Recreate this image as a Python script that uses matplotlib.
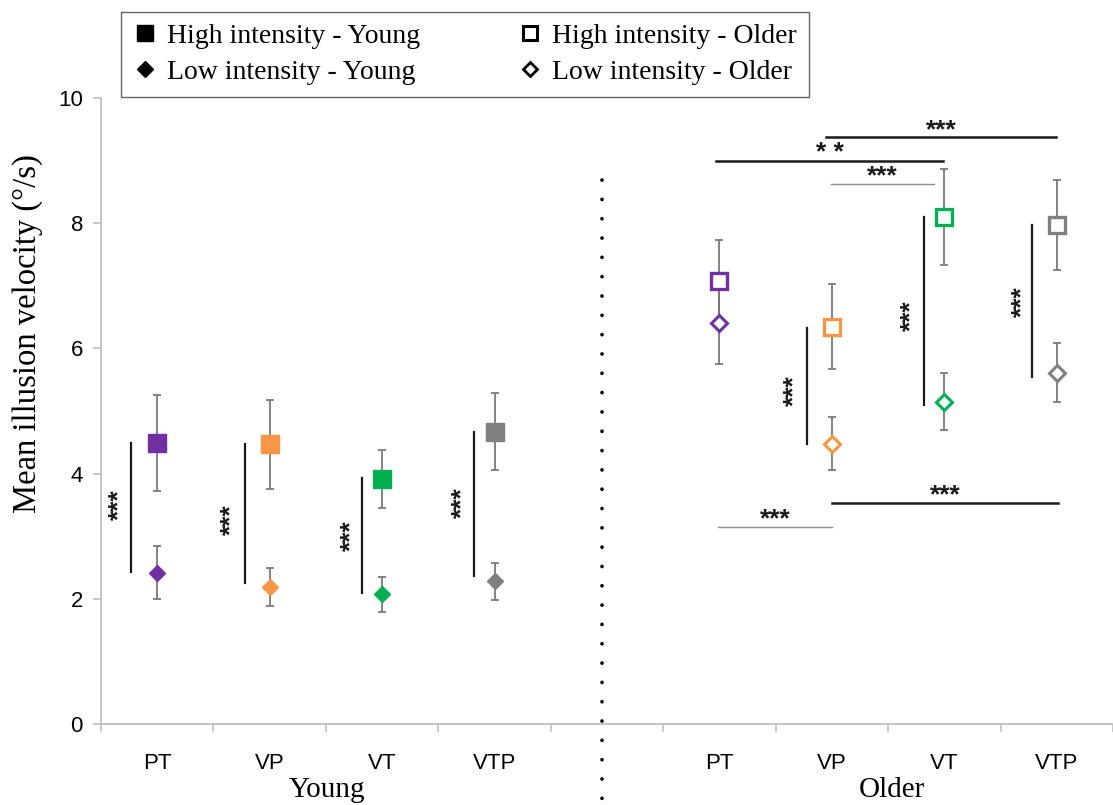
import matplotlib
matplotlib.use("Agg")
import matplotlib.pyplot as plt
from matplotlib.lines import Line2D

# categories (slot 4 is the empty gap between the groups)
conditions = ["PT", "VP", "VT", "VTP"]
young_pos = [0, 1, 2, 3]
older_pos = [5, 6, 7, 8]
colors = ["#7030A0", "#F79646", "#00B050", "#808080"]

young_high = [4.49, 4.47, 3.91, 4.67]
young_high_err = [0.77, 0.71, 0.46, 0.62]
young_low = [2.42, 2.19, 2.07, 2.28]
young_low_err = [0.42, 0.30, 0.28, 0.30]

older_high = [7.08, 6.35, 8.10, 7.97]
older_high_err = [0.66, 0.68, 0.76, 0.72]
older_low = [6.41, 4.48, 5.15, 5.61]
older_low_err = [0.66, 0.42, 0.45, 0.47]

# vertical significance bars: x, y from, y to, star x, star y
vsig_x = [-0.23, 0.78, 1.82, 2.82, 5.78, 6.82, 7.78]
vsig_y0 = [2.43, 2.25, 2.10, 2.37, 4.48, 5.09, 5.54]
vsig_y1 = [4.49, 4.48, 3.93, 4.67, 6.33, 8.10, 7.97]
vsig_tx = [-0.34, 0.66, 1.73, 2.71, 5.67, 6.71, 7.69]
vsig_ty = [3.50, 3.27, 3.01, 3.54, 5.33, 6.53, 6.74]

# horizontal significance bars (older group)
hsig_x0 = [5.95, 4.97, 5.99, 6.00, 4.99]
hsig_x1 = [7.99, 6.99, 6.91, 8.01, 6.00]
hsig_y = [9.37, 9.00, 8.63, 3.53, 3.15]
hsig_label = ["***", "* *", "***", "***", "***"]
hsig_heavy = [True, True, False, True, False]

plt.rcParams["font.family"] = ["Liberation Sans", "DejaVu Sans"]
serif = ["Liberation Serif", "DejaVu Serif"]

fig = plt.figure(figsize=(11.13, 8.05), dpi=100)
ax = fig.add_axes([0.0907, 0.1006, 0.9093, 0.7776])

eb = dict(fmt="none", ecolor="#787878", elinewidth=1.3, capsize=2.6, capthick=1.3, zorder=2)
for i in range(4):
    ax.errorbar(young_pos[i], young_high[i], yerr=young_high_err[i], **eb)
    ax.errorbar(young_pos[i], young_low[i], yerr=young_low_err[i], **eb)
    ax.errorbar(older_pos[i], older_high[i], yerr=older_high_err[i], **eb)
    ax.errorbar(older_pos[i], older_low[i], yerr=older_low_err[i], **eb)
    ax.plot(young_pos[i], young_high[i], "s", ms=12.5, color=colors[i], zorder=3)
    ax.plot(young_pos[i], young_low[i], "D", ms=8.5, color=colors[i], zorder=3)
    ax.plot(older_pos[i], older_high[i], "s", ms=11, mfc="white", mec=colors[i], mew=2.4, zorder=3)
    ax.plot(older_pos[i], older_low[i], "D", ms=8, mfc="white", mec=colors[i], mew=2.2, zorder=3)

star_font = dict(fontsize=19, fontweight="bold", color="#1a1a1a", ha="center", va="center")
for x, y0, y1, tx, ty in zip(vsig_x, vsig_y0, vsig_y1, vsig_tx, vsig_ty):
    ax.plot([x, x], [y0, y1], color="#1a1a1a", lw=1.6, zorder=1)
    ax.text(tx, ty, "***", rotation=90, rotation_mode="anchor", **star_font)

for x0, x1, y, lab, heavy in zip(hsig_x0, hsig_x1, hsig_y, hsig_label, hsig_heavy):
    ax.plot([x0, x1], [y, y], color="#1a1a1a" if heavy else "#8c8c8c",
            lw=1.8 if heavy else 1.0, zorder=1)
    ax.text((x0 + x1) / 2, y + 0.12, lab, **star_font)

# dotted separator between the groups
ax.plot([3.96, 3.96], [8.69, -1.4], color="black", lw=2.6,
        ls=(0, (0.05, 5.3)), dash_capstyle="round", clip_on=False)

ax.set_xlim(-0.5, 8.456)
ax.set_ylim(0, 10)
ax.set_yticks([0, 2, 4, 6, 8, 10])
ax.set_xticks(young_pos + [4] + older_pos)
ax.set_xticklabels(conditions + [""] + conditions)
ax.set_xticks([k - 0.5 for k in range(10)], minor=True)
ax.tick_params(axis="x", which="major", length=0, pad=21, labelsize=16)
ax.tick_params(axis="x", which="minor", length=6, color="#bfbfbf", width=1.2)
ax.tick_params(axis="y", length=6, color="#bfbfbf", width=1.2, pad=7, labelsize=16)
for s in ["top", "right"]:
    ax.spines[s].set_visible(False)
for s in ["left", "bottom"]:
    ax.spines[s].set_color("#bfbfbf")
    ax.spines[s].set_linewidth(1.3)

ax.set_ylabel("Mean illusion velocity (°/s)", family=serif, fontsize=23.5)
ax.yaxis.set_label_coords(-0.057, 0.623)

fig.text(327 / 1113, 2 / 805, "Young", family=serif, fontsize=21, ha="center", va="bottom")
fig.text(892 / 1113, 2 / 805, "Older", family=serif, fontsize=21, ha="center", va="bottom")

handles = [
    Line2D([], [], ls="none", marker="s", ms=11, color="black"),
    Line2D([], [], ls="none", marker="D", ms=8, color="black"),
    Line2D([], [], ls="none", marker="s", ms=10, mfc="white", mec="black", mew=2.2),
    Line2D([], [], ls="none", marker="D", ms=7, mfc="white", mec="black", mew=2.0),
]
labels = ["High intensity - Young", "Low intensity - Young",
          "High intensity - Older", "Low intensity - Older"]
leg = fig.legend(handles, labels, ncol=2, loc="upper left", bbox_to_anchor=(0.1087, 0.985),
                 prop={"family": serif, "size": 20}, frameon=True, fancybox=False,
                 edgecolor="#404040", borderpad=0.42, labelspacing=0.38,
                 handlelength=0.9, handletextpad=0.35, columnspacing=3.5, borderaxespad=0)
leg.get_frame().set_linewidth(1.0)

fig.savefig("out.png", dpi=100)
